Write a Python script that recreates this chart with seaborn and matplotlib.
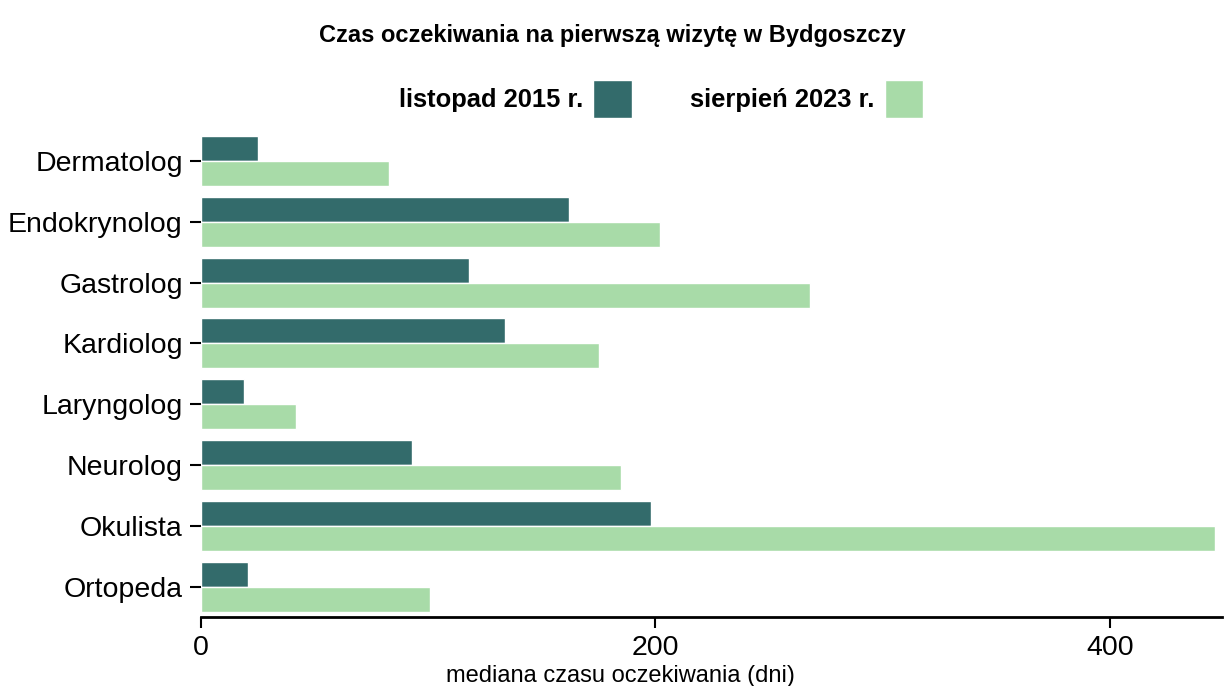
import pandas as pd
import matplotlib.pyplot as plt
import seaborn as sns

SPECIALISTS = ["Dermatolog", "Endokrynolog", "Gastrolog", "Kardiolog",
               "Laryngolog", "Neurolog", "Okulista", "Ortopeda"]
PERIODS = ["listopad 2015 r.", "sierpień 2023 r."]
DAYS_2015 = [25, 162, 118, 134, 19, 93, 198, 21]
DAYS_2023 = [83, 202, 268, 175, 42, 185, 446, 101]

PALETTE = {"listopad 2015 r.": "#336B6B", "sierpień 2023 r.": "#A8DBA8"}

df = pd.DataFrame({
    "specjalista": SPECIALISTS * 2,
    "okres": [PERIODS[0]] * len(SPECIALISTS) + [PERIODS[1]] * len(SPECIALISTS),
    "dni": DAYS_2015 + DAYS_2023,
})

sns.set_style("white")
plt.rcParams["font.family"] = ["Liberation Sans", "DejaVu Sans"]
plt.rcParams["text.color"] = "black"
plt.rcParams["axes.labelcolor"] = "black"
plt.rcParams["xtick.color"] = "black"
plt.rcParams["ytick.color"] = "black"

fig, ax = plt.subplots(figsize=(12.24, 6.86), dpi=100)
fig.subplots_adjust(left=0.164, right=0.998, top=0.81, bottom=0.10)

sns.barplot(
    data=df,
    y="specjalista",
    x="dni",
    hue="okres",
    palette=PALETTE,
    saturation=1,
    orient="h",
    width=0.82,
    edgecolor="white",
    linewidth=1,
    ax=ax,
)

ax.set_xlim(0, 449)
ax.set_xticks([0, 200, 400])
ax.set_ylabel("")
ax.set_xlabel("mediana czasu oczekiwania (dni)", fontsize=17)
ax.xaxis.set_label_coords(0.411, -0.098)
ax.tick_params(axis="y", labelsize=20.5, length=8, width=1.5, pad=5, left=True)
ax.tick_params(axis="x", labelsize=20.5, length=8, width=1.5, pad=5, bottom=True)

for side in ["top", "right", "left"]:
    ax.spines[side].set_visible(False)
ax.spines["bottom"].set_color("black")
ax.spines["bottom"].set_linewidth(2)

handles, labels = ax.get_legend_handles_labels()
ax.get_legend().remove()
fig.legend(
    handles, labels,
    loc="center", bbox_to_anchor=(0.54, 0.856),
    ncol=2, frameon=False, markerfirst=False,
    prop={"weight": "bold", "size": 18.4},
    handlelength=1.5, handleheight=1.9, handletextpad=0.4, columnspacing=2.3,
)

fig.suptitle("Czas oczekiwania na pierwszą wizytę w Bydgoszczy",
             fontsize=17, fontweight="bold", y=0.965)

plt.savefig("out.png", dpi=100)
plt.close()
